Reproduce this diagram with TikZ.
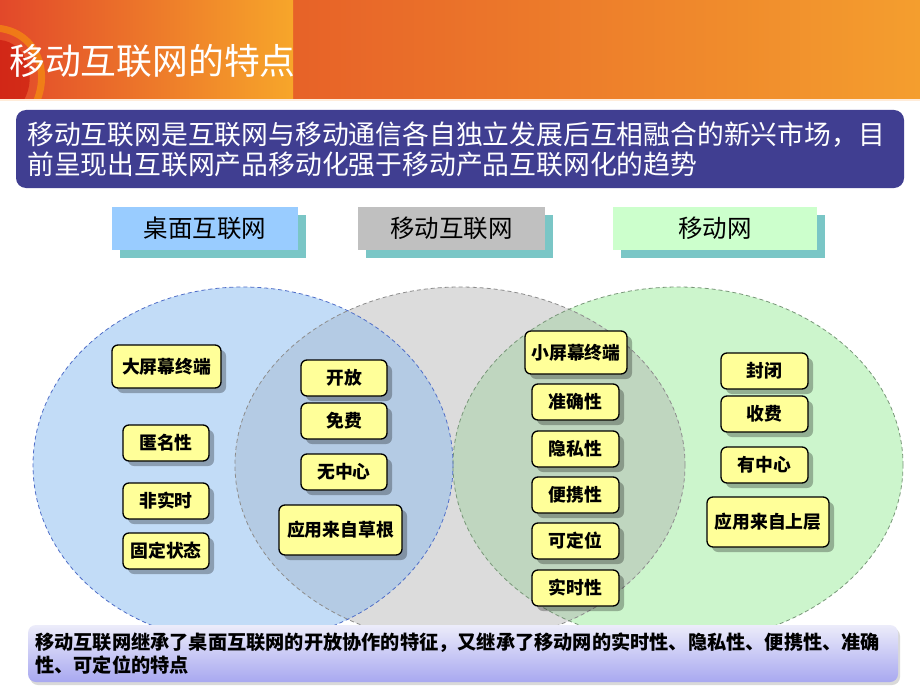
\documentclass[tikz,border=0pt]{standalone}
\usepackage{fontspec}
\setmainfont{Noto Sans CJK SC}
\usetikzlibrary{shadows}
\definecolor{hdrA}{RGB}{226,72,42}
\definecolor{hdrB}{RGB}{247,166,42}
\definecolor{hdrC}{RGB}{231,98,40}
\definecolor{hdrD}{RGB}{244,158,46}
\definecolor{navy}{RGB}{64,62,145}
\definecolor{tblue}{RGB}{153,204,255}
\definecolor{tgray}{RGB}{192,192,192}
\definecolor{tgreen}{RGB}{204,255,204}
\definecolor{teal}{RGB}{122,198,198}
\definecolor{eblue}{RGB}{194,220,247}
\definecolor{egray}{RGB}{220,220,220}
\definecolor{egreen}{RGB}{204,245,204}
\definecolor{ibg}{RGB}{180,203,228}
\definecolor{igg}{RGB}{191,214,191}
\definecolor{bblue}{RGB}{80,110,200}
\definecolor{bgray}{RGB}{140,140,140}
\definecolor{bgreen}{RGB}{120,150,120}
\definecolor{yel}{RGB}{255,255,153}
\definecolor{lavT}{RGB}{236,236,250}
\definecolor{lavB}{RGB}{168,168,240}
\tikzset{
  ybox/.style={draw=black, line width=1.3pt, fill=yel, rounded corners=6pt,
    font=\bfseries\fontsize{17.8}{20}\selectfont, inner sep=0pt, align=center,
    drop shadow={shadow xshift=5pt, shadow yshift=-5pt, fill=black, opacity=0.28}},
  tbox/.style={minimum height=43pt, inner sep=0pt, font=\fontsize{24.5}{28}\selectfont,
    drop shadow={shadow xshift=8pt, shadow yshift=-8pt, fill=teal, opacity=1}},
  venn/.style={line width=0.8pt, dash pattern=on 4pt off 3pt},
}
\begin{document}
\begin{tikzpicture}[x=1pt,y=-1pt]
\useasboundingbox (0,0) rectangle (920,690);
\fill[white] (0,0) rectangle (920,690);
% header
\shade[left color=hdrC, right color=hdrD] (293,0) rectangle (920,100);
\shade[left color=hdrA, right color=hdrB] (0,0) rectangle (293,100);
\begin{scope}
  \clip (0,0) rectangle (293,100);
  \draw[line width=7pt, orange!60!yellow, opacity=0.45] (-5,28) .. controls (35,30) and (52,70) .. (35,105);
  \fill[red!75!black, opacity=0.45] (0,40) .. controls (25,42) and (38,75) .. (24,100) -- (0,100) -- cycle;
\end{scope}
\fill[white!85!orange] (0,99) rectangle (920,101);
\node[anchor=west, text=white, font=\fontsize{35.8}{40}\selectfont, inner sep=0pt] (title) at (9,61) {移动互联网的特点};
% navy box
\node[fill=navy, rounded corners=10pt, minimum width=888pt, minimum height=78pt, inner sep=0pt] (intro) at (460,149) {};
\node[anchor=west, text=white, align=left, inner sep=0pt, font=\fontsize{26.8}{30}\selectfont] (introtext) at (27,149)
  {移动互联网是互联网与移动通信各自独立发展后互相融合的新兴市场，目\\前呈现出互联网产品移动化强于移动产品互联网化的趋势};
% title boxes
\node[tbox, fill=tblue, minimum width=186pt] (tdesk) at (205,228.5) {桌面互联网};
\node[tbox, fill=tgray, minimum width=187pt] (tmob) at (451.5,228.5) {移动互联网};
\node[tbox, fill=tgreen, minimum width=204pt] (tnet) at (715,228.5) {移动网};
% venn
\fill[eblue] (243,465) ellipse [x radius=210pt, y radius=178pt];
\fill[egreen] (678,465) ellipse [x radius=225pt, y radius=178pt];
\fill[egray] (460,465) ellipse [x radius=225pt, y radius=178pt];
\begin{scope}
  \clip (243,465) ellipse [x radius=210pt, y radius=178pt];
  \fill[ibg] (460,465) ellipse [x radius=225pt, y radius=178pt];
\end{scope}
\begin{scope}
  \clip (678,465) ellipse [x radius=225pt, y radius=178pt];
  \fill[igg] (460,465) ellipse [x radius=225pt, y radius=178pt];
\end{scope}
\draw[venn, bgray] (460,465) ellipse [x radius=225pt, y radius=178pt];
\draw[venn, bgreen] (678,465) ellipse [x radius=225pt, y radius=178pt];
\draw[venn, bblue] (243,465) ellipse [x radius=210pt, y radius=178pt];
% yellow boxes
\node[ybox, minimum width=109pt, minimum height=43pt] (b1) at (166.5,366.5) {大屏幕终端};
\node[ybox, minimum width=86pt, minimum height=36pt] (b2) at (166,443) {匿名性};
\node[ybox, minimum width=86pt, minimum height=36pt] (b3) at (166,501) {非实时};
\node[ybox, minimum width=86pt, minimum height=36pt] (b4) at (166,551) {固定状态};
\node[ybox, minimum width=86pt, minimum height=36pt] (c1) at (344,378) {开放};
\node[ybox, minimum width=86pt, minimum height=36pt] (c2) at (344,421) {免费};
\node[ybox, minimum width=86pt, minimum height=36pt] (c3) at (344,472) {无中心};
\node[ybox, minimum width=123pt, minimum height=50pt] (c4) at (340.5,530) {应用来自草根};
\node[ybox, minimum width=102pt, minimum height=43pt] (d1) at (576,352.5) {小屏幕终端};
\node[ybox, minimum width=87pt, minimum height=36pt] (d2) at (575.5,402) {准确性};
\node[ybox, minimum width=87pt, minimum height=36pt] (d3) at (575.5,449) {隐私性};
\node[ybox, minimum width=87pt, minimum height=36pt] (d4) at (575.5,495) {便携性};
\node[ybox, minimum width=87pt, minimum height=36pt] (d5) at (575.5,541) {可定位};
\node[ybox, minimum width=87pt, minimum height=36pt] (d6) at (575.5,588) {实时性};
\node[ybox, minimum width=87pt, minimum height=36pt] (e1) at (764.5,371) {封闭};
\node[ybox, minimum width=87pt, minimum height=36pt] (e2) at (764.5,414) {收费};
\node[ybox, minimum width=87pt, minimum height=36pt] (e3) at (764.5,465) {有中心};
\node[ybox, minimum width=122pt, minimum height=50pt] (e4) at (768,522) {应用来自上层};
% bottom box
\node[top color=lavT, bottom color=lavB, rounded corners=8pt, minimum width=870pt, minimum height=57pt, inner sep=0pt,
  drop shadow={shadow xshift=2pt, shadow yshift=-3pt, fill=black, opacity=0.15}] (summary) at (463,653.5) {};
\node[anchor=west, align=left, inner sep=0pt, font=\bfseries\fontsize{19.2}{22.5}\selectfont] (summarytext) at (35,653.5)
  {移动互联网继承了桌面互联网的开放协作的特征，又继承了移动网的实时性、隐私性、便携性、准确\\性、可定位的特点};
\end{tikzpicture}
\end{document}
